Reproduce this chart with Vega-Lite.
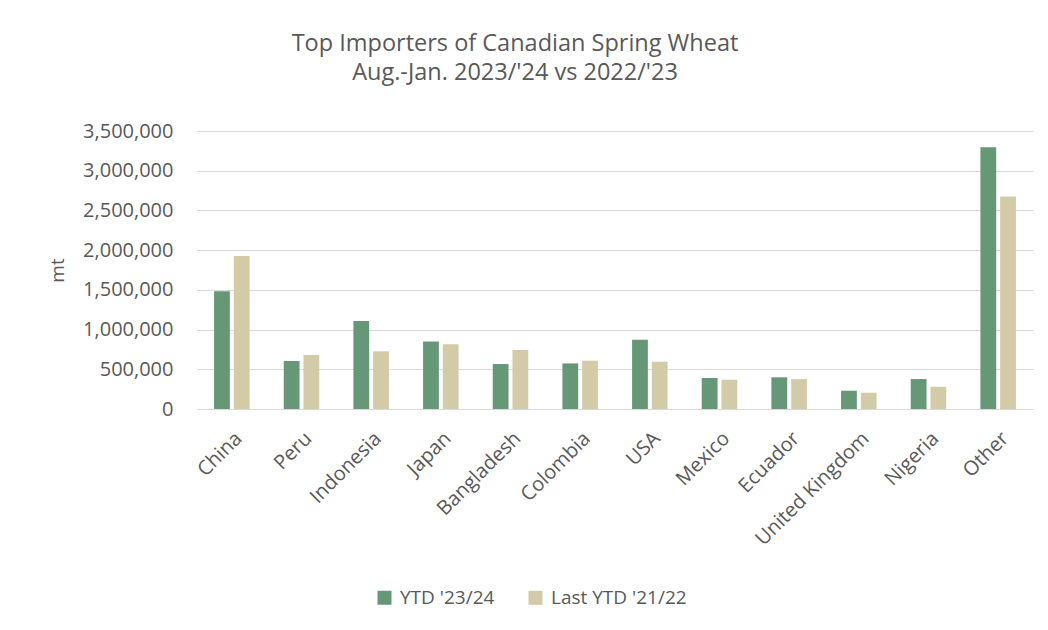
{
  "$schema": "https://vega.github.io/schema/vega-lite/v6.json",
  "autosize": {"type": "none"},
  "width": 836,
  "height": 278,
  "padding": {"left": 197, "top": 131, "right": 15, "bottom": 221},
  "background": "white",
  "config": {
    "font": "Open Sans",
    "view": {"stroke": null},
    "axis": {"labelColor": "#595959", "titleColor": "#595959", "labelFontSize": 20, "titleFontSize": 19, "titleFontWeight": "normal"},
    "legend": {"labelColor": "#595959", "labelFontSize": 19}
  },
  "title": {
    "text": ["Top  Importers of Canadian Spring Wheat", "Aug.-Jan. 2023/'24 vs 2022/'23"],
    "fontSize": 23.5,
    "fontWeight": "normal",
    "color": "#595959",
    "lineHeight": 29,
    "anchor": "middle",
    "frame": "group",
    "dx": -100,
    "offset": 37
  },
  "data": {
    "values": [
      {"country": "China", "series": "YTD '23/24", "value": 1484000},
      {"country": "China", "series": "Last YTD '21/22", "value": 1925000},
      {"country": "Peru", "series": "YTD '23/24", "value": 604000},
      {"country": "Peru", "series": "Last YTD '21/22", "value": 679000},
      {"country": "Indonesia", "series": "YTD '23/24", "value": 1107000},
      {"country": "Indonesia", "series": "Last YTD '21/22", "value": 726000},
      {"country": "Japan", "series": "YTD '23/24", "value": 851000},
      {"country": "Japan", "series": "Last YTD '21/22", "value": 814000},
      {"country": "Bangladesh", "series": "YTD '23/24", "value": 566000},
      {"country": "Bangladesh", "series": "Last YTD '21/22", "value": 742000},
      {"country": "Colombia", "series": "YTD '23/24", "value": 574000},
      {"country": "Colombia", "series": "Last YTD '21/22", "value": 608000},
      {"country": "USA", "series": "YTD '23/24", "value": 872000},
      {"country": "USA", "series": "Last YTD '21/22", "value": 595000},
      {"country": "Mexico", "series": "YTD '23/24", "value": 390000},
      {"country": "Mexico", "series": "Last YTD '21/22", "value": 369000},
      {"country": "Ecuador", "series": "YTD '23/24", "value": 399000},
      {"country": "Ecuador", "series": "Last YTD '21/22", "value": 376000},
      {"country": "United Kingdom", "series": "YTD '23/24", "value": 230000},
      {"country": "United Kingdom", "series": "Last YTD '21/22", "value": 205000},
      {"country": "Nigeria", "series": "YTD '23/24", "value": 377000},
      {"country": "Nigeria", "series": "Last YTD '21/22", "value": 280000},
      {"country": "Other", "series": "YTD '23/24", "value": 3296000},
      {"country": "Other", "series": "Last YTD '21/22", "value": 2675000}
    ]
  },
  "mark": {"type": "bar"},
  "encoding": {
    "x": {
      "field": "country",
      "type": "nominal",
      "sort": null,
      "scale": {"paddingInner": 0.49, "paddingOuter": 0.245},
      "axis": {
        "title": null,
        "labelAngle": -45,
        "labelFontSize": 20,
        "ticks": false,
        "domainColor": "#D9D9D9",
        "domainWidth": 1,
        "labelPadding": 19
      }
    },
    "xOffset": {
      "field": "series",
      "type": "nominal",
      "sort": ["YTD '23/24", "Last YTD '21/22"],
      "scale": {"paddingInner": 0.2}
    },
    "y": {
      "field": "value",
      "type": "quantitative",
      "scale": {"domain": [0, 3500000], "nice": false},
      "axis": {
        "title": "mt",
        "values": [0, 500000, 1000000, 1500000, 2000000, 2500000, 3000000, 3500000],
        "format": ",.0f",
        "domain": false,
        "ticks": false,
        "gridColor": "#D9D9D9",
        "gridWidth": 1,
        "labelPadding": 24,
        "titleX": -140,
        "titleY": 139,
        "titleAngle": -90,
        "titleAlign": "center",
        "titleBaseline": "middle"
      }
    },
    "color": {
      "field": "series",
      "type": "nominal",
      "sort": ["YTD '23/24", "Last YTD '21/22"],
      "scale": {"domain": ["YTD '23/24", "Last YTD '21/22"], "range": ["#669877", "#D3CAA8"]},
      "legend": {
        "title": null,
        "orient": "none",
        "legendX": 178,
        "legendY": 457,
        "direction": "horizontal",
        "symbolType": "square",
        "symbolSize": 196,
        "symbolStrokeWidth": 0,
        "labelOffset": 6,
        "columnPadding": 31
      }
    }
  }
}
